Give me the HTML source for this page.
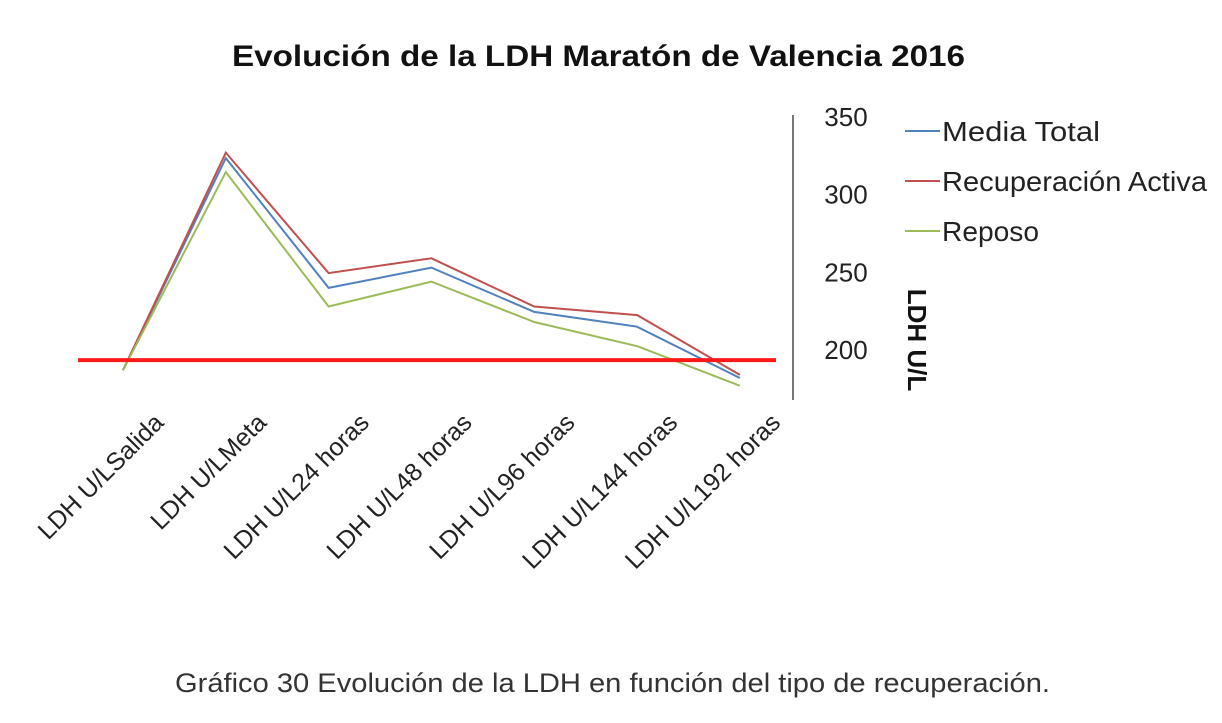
<!DOCTYPE html>
<html><head><meta charset="utf-8"><style>
body{margin:0;background:#fff;width:1222px;height:718px;overflow:hidden}
svg text{font-family:"Liberation Sans",sans-serif}
</style></head><body>
<svg width="1222" height="718">
<text x="232" y="66" textLength="733" lengthAdjust="spacingAndGlyphs" font-size="30" font-weight="bold" fill="#111">Evolución de la LDH Maratón de Valencia  2016</text>
<line x1="793" y1="115" x2="793" y2="400" stroke="#777" stroke-width="2"/>
<g id="yticks"></g>
<g id="xlabels"></g>
<g id="series"></g>
<line id="ref" x1="78" x2="776" stroke="#ff1a1a" stroke-width="4"/>
<text transform="translate(908,340) rotate(90)" text-anchor="middle" font-size="26" font-weight="bold" fill="#111">LDH U/L</text>
<g id="legend"></g>
<text x="175" y="692" textLength="875" lengthAdjust="spacingAndGlyphs" font-size="27" fill="#333">Gráfico 30 Evolución de la LDH en función del tipo de recuperación.</text>
</svg>
<script>
const categories=["LDH U/LSalida","LDH U/LMeta","LDH U/L24 horas","LDH U/L48 horas","LDH U/L96 horas","LDH U/L144 horas","LDH U/L192 horas"];
const mediaTotal=[187,323.5,240,253,224.5,215,182];
const recuperacionActiva=[187,327,249.5,259,228,222.5,184];
const reposo=[187,314.5,228,244,218,202.5,177];
const seriesNames=["Media Total","Recuperación Activa","Reposo"];
const yTicks=[200,250,300,350];
const refValue=193.5;
const NS="http://www.w3.org/2000/svg";
const x=i=>123+i*102.8;
const y=v=>350-(v-200)*1.554;
function mk(t,a,p){const e=document.createElementNS(NS,t);for(const k in a)e.setAttribute(k,a[k]);p.appendChild(e);return e;}
const yt=document.getElementById('yticks');
yTicks.forEach(v=>{const t=mk('text',{x:846,y:y(v)+9,'text-anchor':'middle','font-size':26,fill:'#222'},yt);t.textContent=v;

});
const xl=document.getElementById('xlabels');
categories.forEach((c,i)=>{const t=mk('text',{transform:`translate(${x(i)+42},${424}) rotate(-45)`,'text-anchor':'end','font-size':25,fill:'#222'},xl);t.textContent=c;

});
const sg=document.getElementById('series');
const cols=["#4f81bd","#c0504d","#9bbb59"];
[mediaTotal,recuperacionActiva,reposo].forEach((d,s)=>{const p=mk('polyline',{points:d.map((v,i)=>x(i)+','+y(v)).join(' '),fill:'none',stroke:cols[s],'stroke-width':2},sg);

});
const r=document.getElementById('ref');r.setAttribute('y1',y(refValue));r.setAttribute('y2',y(refValue));
const lg=document.getElementById('legend');
const lens=[158,265,97];
seriesNames.forEach((n,i)=>{const yy=131+i*50;
const l=mk('line',{x1:905,x2:940,y1:yy,y2:yy,stroke:cols[i],'stroke-width':2},lg);


const t=mk('text',{x:942,y:yy+10,'font-size':28,fill:'#222',textLength:lens[i],lengthAdjust:'spacingAndGlyphs'},lg);t.textContent=n;

});
</script>
</body></html>
